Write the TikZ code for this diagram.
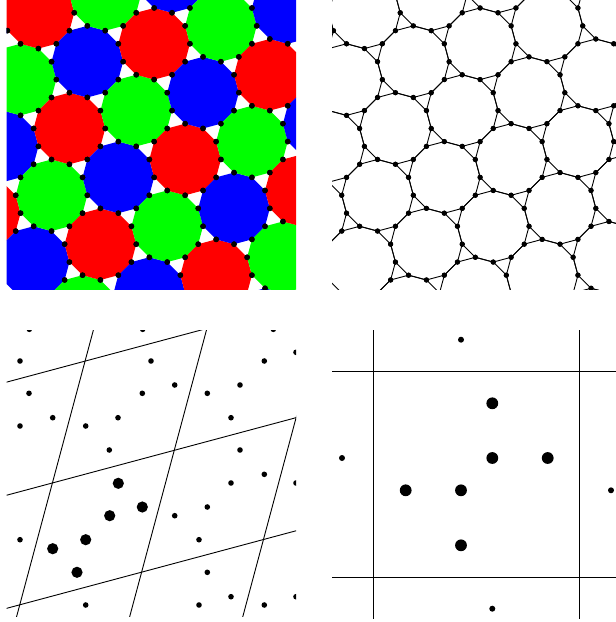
\documentclass[tikz,border=0pt]{standalone}
\usepackage{xcolor}
\usepackage{tikz}
\usetikzlibrary{calc}
\definecolor{tileRed}{HTML}{FF0000}
\definecolor{tileGreen}{HTML}{00FF00}
\definecolor{tileBlue}{HTML}{0000FF}
\definecolor{tileInk}{HTML}{000000}

\tikzset{
  tileedge/.style={tileInk, line width=0.9pt},
  cellline/.style={tileInk, line width=0.9pt},
}

\begin{document}
\begin{tikzpicture}[x=1pt, y=-1pt, line cap=round, line join=round]
  \useasboundingbox (0,0) rectangle (616,622);

  % top left: coloured dodecagons, dots on the corners
  \begin{scope}
    \clip (6.7,0) rectangle (296,289.5);
    \foreach \i in {-5,...,5}{%
      \foreach \j in {-3,...,6}{%
        \pgfmathsetmacro{\cx}{87.33+66.80*\i+48.90*\j}
        \pgfmathsetmacro{\cy}{61.67-17.90*\i+48.90*\j}
        \pgfmathtruncatemacro{\col}{mod(\i-\j+30,3)}
        \ifcase\col\def\tint{tileBlue}\or\def\tint{tileRed}\else\def\tint{tileGreen}\fi
        \fill[\tint, shift={(\cx,\cy)}] (0:35.8) \foreach \k in {1,...,11}{ -- (\k*30:35.8)} -- cycle;
      }
    }
    \foreach \i in {-5,...,5}{%
      \foreach \j in {-3,...,6}{%
        \pgfmathsetmacro{\cx}{87.33+66.80*\i+48.90*\j}
        \pgfmathsetmacro{\cy}{61.67-17.90*\i+48.90*\j}
        \foreach \k in {0,...,11}
          \fill[tileInk, shift={(\cx,\cy)}] (\k*30:35.8) circle[radius=2.8pt];
      }
    }
  \end{scope}

  % top right: the same tiling as a graph
  \begin{scope}
    \clip (332,0) rectangle (616,289.5);
    \foreach \i in {-5,...,5}{%
      \foreach \j in {-3,...,6}{%
        \pgfmathsetmacro{\cx}{413.33+66.80*\i+48.90*\j}
        \pgfmathsetmacro{\cy}{61.67-17.90*\i+48.90*\j}
        \draw[tileedge, shift={(\cx,\cy)}] (0:35.8) \foreach \k in {1,...,11}{ -- (\k*30:35.8)} -- cycle;
        \foreach \k in {0,...,11}
          \fill[tileInk, shift={(\cx,\cy)}] (\k*30:35.8) circle[radius=2.6pt];
      }
    }
  \end{scope}

  % bottom left: rhombic cells
  \begin{scope}
    \clip (6.7,330) rectangle (296,616.7);
    \coordinate (cellO) at (52.41,482.96);
    \coordinate (cellA) at (121.85,-32.65);
    \coordinate (cellB) at (32.65,-121.85);
    \foreach \k in {-1,0,1}
      \draw[cellline] ($(cellO)+\k*(cellB)-3*(cellA)$) -- ($(cellO)+\k*(cellB)+3*(cellA)$);
    \foreach \k in {0,1,2}
      \draw[cellline] ($(cellO)+\k*(cellA)-3*(cellB)$) -- ($(cellO)+\k*(cellA)+3*(cellB)$);
    \foreach \x/\y in {118.3/483.3, 142.3/507, 109.7/515.7, 85.7/539.7, 52.7/548.7, 77/572.3}
      \fill[tileInk] (\x,\y) circle[radius=5.6pt];
    \foreach \x/\y in {29.3/329.3, 142.7/329.3, 273.3/329.3, 20/361, 151/361, 264.3/361,
        296/352.3, 29/393.3, 142.3/393.3, 174.7/385, 207.3/393.3, 240/385,
        20/426, 52.7/417.7, 85.7/426, 118/417.7, 231/417.7, 109.3/450, 240/450,
        264.3/474.3, 231/483, 296/483, 207.3/507, 174.7/515.7, 20/539.7, 199/539.7,
        207.3/572.3, 231/596.7, 296/596.7, 85.7/605, 199/605, 264.3/605}
      \fill[tileInk] (\x,\y) circle[radius=2.8pt];
  \end{scope}

  % bottom right: square cells
  \begin{scope}
    \clip (332,330) rectangle (616,618.3);
    \foreach \x in {373.7,579.3}
      \draw[cellline, line width=0.8pt] (\x,320) -- (\x,630);
    \foreach \y in {371.7,577}
      \draw[cellline, line width=0.8pt] (320,\y) -- (630,\y);
    \foreach \x/\y in {492.3/403.3, 492.3/458, 547.7/458, 405.7/490.3, 461/490.3, 461/545.3}
      \fill[tileInk] (\x,\y) circle[radius=5.9pt];
    \foreach \x/\y in {461/339.7, 342/458, 611/490.3, 492.3/608.7}
      \fill[tileInk] (\x,\y) circle[radius=3pt];
  \end{scope}
\end{tikzpicture}
\end{document}
